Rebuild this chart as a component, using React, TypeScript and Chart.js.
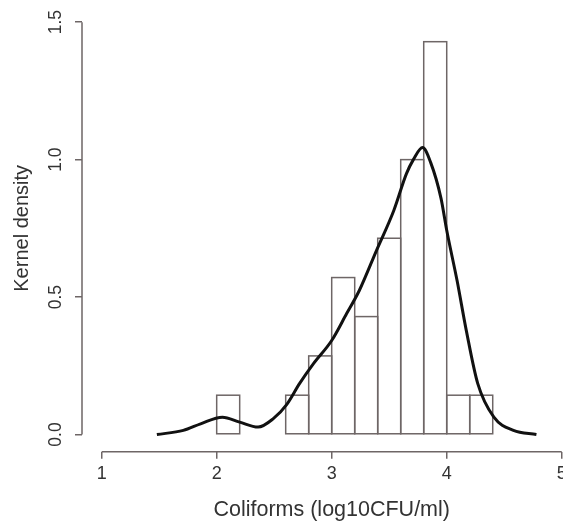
import React, { useEffect, useRef } from "react";
import { Chart, registerables } from "chart.js";

Chart.register(...registerables);

// ---- data ----
const binCenters = [2.1, 2.7, 2.9, 3.1, 3.3, 3.5, 3.7, 3.9, 4.1, 4.3];
const binDensity = [0.143, 0.143, 0.286, 0.571, 0.429, 0.714, 1.0, 1.429, 0.143, 0.143];

const curveX = [1.48, 1.71, 1.86, 2.05, 2.2, 2.36, 2.49, 2.61, 2.72, 2.84, 3.0, 3.13, 3.24, 3.39, 3.54, 3.65, 3.71, 3.79, 3.86, 3.95, 4.0, 4.09, 4.17, 4.27, 4.41, 4.58, 4.78];
const curveY = [0.0, 0.015, 0.039, 0.063, 0.045, 0.027, 0.057, 0.11, 0.185, 0.257, 0.342, 0.44, 0.524, 0.67, 0.815, 0.949, 1.0, 1.044, 0.99, 0.86, 0.743, 0.56, 0.379, 0.185, 0.063, 0.015, 0.0];

const xTicks = [1, 2, 3, 4, 5];
const xTickLabels = ["1", "2", "3", "4", "5"];
const yTicks = [0, 0.5, 1.0, 1.5];
const yTickLabels = ["0.0", "0.5", "1.0", "1.5"];

const xTitle = "Coliforms (log10CFU/ml)";
const yTitle = "Kernel density";

const X_MIN = 0.829;
const X_MAX = 5.171;
const Y_MIN = -0.0625;
const Y_MAX = 1.5625;

const FONT = '"Liberation Sans", Arial, sans-serif';
const AXIS_COLOR = "#6e6666";
const TEXT_COLOR = "#333333";

const CANVAS_W = 620;
const CANVAS_H = 521;

const rStylePlugin = {
  id: "rstyle",
  afterDatasetDraw(chart: any, args: any) {
    if (args.meta.type !== "bar") return;
    const ctx = chart.ctx;
    ctx.save();
    ctx.strokeStyle = AXIS_COLOR;
    ctx.lineWidth = 1.5;
    args.meta.data.forEach((el: any) => {
      const p = el.getProps(["x", "y", "base", "width"], true);
      ctx.strokeRect(p.x - p.width / 2, p.y, p.width, p.base - p.y);
    });
    ctx.restore();
  },
  afterDraw(chart: any) {
    const { ctx, chartArea } = chart;
    const x = chart.scales.x;
    const y = chart.scales.y;
    ctx.save();
    ctx.strokeStyle = AXIS_COLOR;
    ctx.lineWidth = 1.5;
    ctx.beginPath();
    ctx.moveTo(chartArea.left, y.getPixelForValue(yTicks[0]));
    ctx.lineTo(chartArea.left, y.getPixelForValue(yTicks[yTicks.length - 1]));
    ctx.moveTo(x.getPixelForValue(xTicks[0]), chartArea.bottom);
    ctx.lineTo(x.getPixelForValue(xTicks[xTicks.length - 1]), chartArea.bottom);
    ctx.stroke();

    ctx.fillStyle = TEXT_COLOR;
    ctx.font = `17.5px ${FONT}`;
    ctx.textAlign = "center";
    ctx.textBaseline = "middle";
    yTicks.forEach((v, i) => {
      ctx.save();
      ctx.translate(chartArea.left - 26, y.getPixelForValue(v));
      ctx.rotate(-Math.PI / 2);
      ctx.fillText(yTickLabels[i], 0, 0);
      ctx.restore();
    });
    ctx.restore();
  },
};

export default function App() {
  const ref = useRef<HTMLCanvasElement | null>(null);

  useEffect(() => {
    if (!ref.current) return;
    const chart = new Chart(ref.current, {
      type: "bar",
      data: {
        datasets: [
          {
            type: "line",
            data: curveX.map((v, i) => ({ x: v, y: curveY[i] })),
            borderColor: "#111111",
            borderWidth: 3,
            pointRadius: 0,
            cubicInterpolationMode: "monotone",
            fill: false,
            order: 0,
          } as any,
          {
            type: "bar",
            data: binCenters.map((v, i) => ({ x: v, y: binDensity[i] })),
            backgroundColor: "rgba(0,0,0,0)",
            borderWidth: 0,
            barPercentage: 1,
            categoryPercentage: 1,
            grouped: false,
            order: 1,
          } as any,
        ],
      },
      options: {
        animation: false,
        responsive: false,
        devicePixelRatio: 1,
        events: [],
        layout: { padding: { left: 0, top: 5, right: CANVAS_W - 581.4, bottom: 0 } },
        plugins: {
          legend: { display: false },
          tooltip: { enabled: false },
        },
        scales: {
          x: {
            type: "linear",
            min: X_MIN,
            max: X_MAX,
            offset: false,
            afterBuildTicks: (scale: any) => {
              scale.ticks = xTicks.map((v) => ({ value: v }));
            },
            afterFit: (scale: any) => {
              scale.height = CANVAS_H - 451.7;
            },
            border: { display: false },
            grid: {
              offset: false,
              drawOnChartArea: false,
              drawTicks: true,
              tickLength: 7,
              color: AXIS_COLOR,
              lineWidth: 1.5,
            },
            ticks: {
              autoSkip: false,
              maxRotation: 0,
              minRotation: 0,
              padding: 5,
              color: TEXT_COLOR,
              font: { family: FONT, size: 18 },
              callback: (value: any) => {
                const i = xTicks.indexOf(Number(value));
                return i >= 0 ? xTickLabels[i] : "";
              },
            },
            title: {
              display: true,
              text: xTitle,
              color: TEXT_COLOR,
              font: { family: FONT, size: 21.5, lineHeight: 1.0 },
              padding: { top: 0, bottom: 0 },
            },
          },
          y: {
            type: "linear",
            min: Y_MIN,
            max: Y_MAX,
            afterBuildTicks: (scale: any) => {
              scale.ticks = yTicks.map((v) => ({ value: v }));
            },
            afterFit: (scale: any) => {
              scale.width = 82;
            },
            border: { display: false },
            grid: {
              offset: false,
              drawOnChartArea: false,
              drawTicks: true,
              tickLength: 7,
              color: AXIS_COLOR,
              lineWidth: 1.5,
            },
            ticks: { display: false },
            title: {
              display: true,
              text: yTitle,
              color: TEXT_COLOR,
              font: { family: FONT, size: 20, lineHeight: 1.2 },
              padding: { top: 10.7, bottom: 0 },
            },
          },
        },
      },
      plugins: [rStylePlugin],
    });
    return () => chart.destroy();
  }, []);

  return (
    <div
      style={{
        position: "absolute",
        left: 0,
        top: 0,
        width: 563,
        height: 521,
        overflow: "hidden",
        background: "#ffffff",
      }}
    >
      <canvas
        ref={ref}
        width={CANVAS_W}
        height={CANVAS_H}
        style={{ width: CANVAS_W, height: CANVAS_H, display: "block" }}
      />
    </div>
  );
}
